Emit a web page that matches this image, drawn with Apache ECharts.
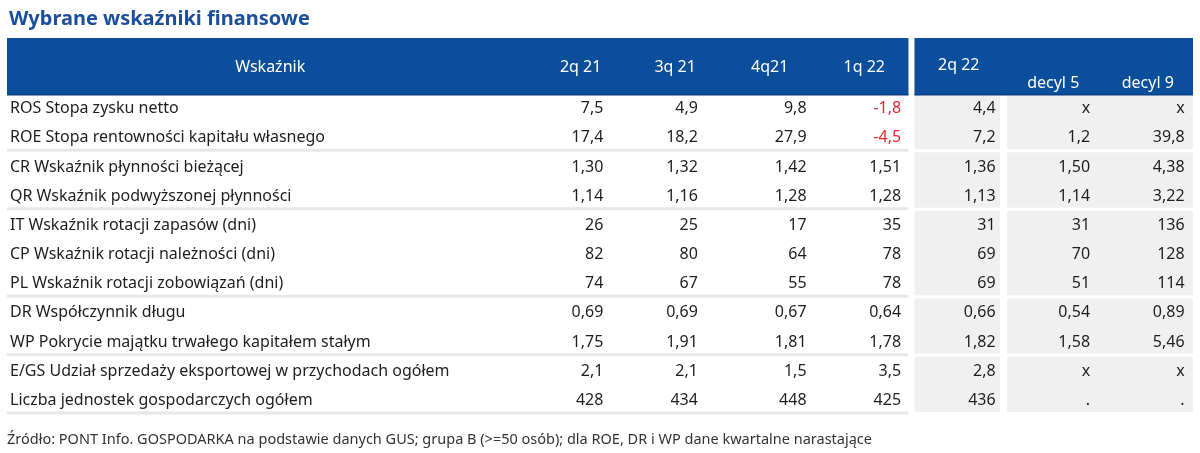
<!DOCTYPE html>
<html><head><meta charset="utf-8">
<script src="https://cdn.jsdelivr.net/npm/echarts@6/dist/echarts.min.js"></script>
<style>html,body{margin:0;padding:0;background:#fff}#c{width:1200px;height:453px}</style>
</head><body><div id="c"></div>
<script>
// ---------- data ----------
const titleText = 'Wybrane wskaźniki finansowe';
const sourceText = 'Źródło: PONT Info. GOSPODARKA na podstawie danych GUS; grupa B (>=50 osób); dla ROE, DR i WP dane kwartalne narastające';
const headerLabel = 'Wskaźnik';
const columns = ['2q 21', '3q 21', '4q21', '1q 22', '2q 22', 'decyl 5', 'decyl 9'];
const rowLabels = [
  'ROS Stopa zysku netto',
  'ROE Stopa rentowności kapitału własnego',
  'CR Wskaźnik płynności bieżącej',
  'QR Wskaźnik podwyższonej płynności',
  'IT Wskaźnik rotacji zapasów (dni)',
  'CP Wskaźnik rotacji należności (dni)',
  'PL Wskaźnik rotacji zobowiązań (dni)',
  'DR Współczynnik długu',
  'WP Pokrycie majątku trwałego kapitałem stałym',
  'E/GS Udział sprzedaży eksportowej w przychodach ogółem',
  'Liczba jednostek gospodarczych ogółem'
];
const rowDecimals = [1, 1, 2, 2, 0, 0, 0, 2, 2, 1, 0];
const rowGroups = [0, 0, 1, 1, 2, 2, 2, 3, 3, 4, 4];
const q2_21 = [7.5, 17.4, 1.30, 1.14, 26, 82, 74, 0.69, 1.75, 2.1, 428];
const q3_21 = [4.9, 18.2, 1.32, 1.16, 25, 80, 67, 0.69, 1.91, 2.1, 434];
const q4_21 = [9.8, 27.9, 1.42, 1.28, 17, 64, 55, 0.67, 1.81, 1.5, 448];
const q1_22 = [-1.8, -4.5, 1.51, 1.28, 35, 78, 78, 0.64, 1.78, 3.5, 425];
const q2_22 = [4.4, 7.2, 1.36, 1.13, 31, 69, 69, 0.66, 1.82, 2.8, 436];
const decyl5 = ['x', 1.2, 1.50, 1.14, 31, 70, 51, 0.54, 1.58, 'x', '.'];
const decyl9 = ['x', 39.8, 4.38, 3.22, 136, 128, 114, 0.89, 5.46, 'x', '.'];
const columnValues = [q2_21, q3_21, q4_21, q1_22, q2_22, decyl5, decyl9];
// column blocks: [first column, end column, shaded]
const columnBlocks = [[0, 4, false], [4, 5, true], [5, 7, true]];

// ---------- style / layout ----------
const FONT = '"Noto Sans", "DejaVu Sans", sans-serif';
const BLUE = '#0b4f9c';
const GRAY = '#f0f0f0';
const SEP = '#e7e7e7';
const RED = '#e3262f';
const LABEL_UNITS = 5.57;
const HEADER_ROWS = 1.85;
const TEXT_DY = 2;
const valueAnchor = [0.74, 0.74, 0.89, 0.89, 0.89, 0.89, 0.89];
const headerDy = [0, 0, 0, 0, -2, 16, 16];

function fmt(v, d) {
  if (typeof v !== 'number') return v;
  return v.toFixed(d).replace('.', ',');
}

const nCols = columns.length, nRows = rowLabels.length;

// group ranges
const groups = [];
rowGroups.forEach((g, r) => {
  if (!groups.length || groups[groups.length - 1].g !== g) groups.push({ g, s: r, e: r + 1 });
  else groups[groups.length - 1].e = r + 1;
});

const bgData = [];
columnBlocks.forEach(b => {
  if (!b[2]) return;
  groups.forEach(gr => bgData.push([b[0], gr.s, b[1], gr.e]));
});
const sepData = groups.map(gr => [-LABEL_UNITS, gr.e, columnBlocks[0][1], gr.e]);
const headData = [[-LABEL_UNITS, -HEADER_ROWS, columnBlocks[0][1], 0], [columnBlocks[1][0], -HEADER_ROWS, nCols, 0]];
const headTextData = [[-LABEL_UNITS / 2, -HEADER_ROWS / 2]];
const headTexts = [headerLabel];
const headOffsets = [0];
columns.forEach((c, i) => { headTextData.push([i + 0.5, -HEADER_ROWS / 2]); headTexts.push(c); headOffsets.push(headerDy[i]); });
const cellData = [], cellTexts = [], cellNeg = [];
columnValues.forEach((arr, c) => {
  arr.forEach((v, r) => {
    cellData.push([c + valueAnchor[c], r + 0.5]);
    cellTexts.push(fmt(v, rowDecimals[r]));
    cellNeg.push(typeof v === 'number' && v < 0);
  });
});
const labelData = rowLabels.map((l, r) => [-LABEL_UNITS, r + 0.5]);

const chart = echarts.init(document.getElementById('c'), null, { renderer: 'canvas' });
chart.setOption({
  animation: false,
  backgroundColor: '#fff',
  title: [
    { text: titleText, left: 4, top: 4, textStyle: { fontFamily: FONT, fontSize: 20, fontWeight: 'bold', color: '#1b4f9c' } },
    { text: sourceText, left: 2, top: 427, textStyle: { fontFamily: FONT, fontSize: 14.5, fontWeight: 'normal', color: '#333' } }
  ],
  grid: { left: 7, right: 5, top: 38, bottom: 40 },
  xAxis: { type: 'value', min: -LABEL_UNITS, max: nCols, show: false },
  yAxis: { type: 'value', inverse: true, min: -HEADER_ROWS, max: nRows, show: false },
  series: [
    {
      type: 'custom', name: 'bg', data: bgData, silent: true,
      renderItem: (p, api) => {
        const a = api.coord([api.value(0), api.value(1)]);
        const b = api.coord([api.value(2), api.value(3)]);
        const firstCol = api.value(0) === columnBlocks[1][0];
        const x0 = a[0] + (firstCol ? 3 : 1), x1 = b[0] - (firstCol ? 6 : 2);
        const y0 = a[1] + 2, y1 = b[1] - 1;
        return { type: 'rect', shape: { x: x0, y: y0, width: x1 - x0, height: y1 - y0 }, style: { fill: GRAY } };
      }
    },
    {
      type: 'custom', name: 'sep', data: sepData, silent: true,
      renderItem: (p, api) => {
        const a = api.coord([api.value(0), api.value(1)]);
        const b = api.coord([api.value(2), api.value(3)]);
        return { type: 'rect', shape: { x: a[0], y: a[1] - 1.5, width: b[0] - a[0] - 3, height: 3 }, style: { fill: SEP } };
      }
    },
    {
      type: 'custom', name: 'head', data: headData, silent: true,
      renderItem: (p, api) => {
        const a = api.coord([api.value(0), api.value(1)]);
        const b = api.coord([api.value(2), api.value(3)]);
        const isLeft = p.dataIndex === 0;
        const x0 = a[0] + (isLeft ? 0 : 3), x1 = b[0] - (isLeft ? 3 : 2);
        return {
          type: 'group', children: [
            { type: 'rect', shape: { x: x0, y: a[1], width: x1 - x0, height: b[1] + 3 - a[1] }, style: { fill: BLUE } },
            { type: 'rect', shape: { x: x0, y: b[1] + 2, width: x1 - x0, height: 1.5 }, style: { fill: '#083f80' } }
          ]
        };
      }
    },
    {
      type: 'custom', name: 'headText', data: headTextData, silent: true,
      renderItem: (p, api) => {
        const a = api.coord([api.value(0), api.value(1)]);
        return { type: 'text', x: a[0], y: a[1] + TEXT_DY + headOffsets[p.dataIndex],
          style: { text: headTexts[p.dataIndex], fill: '#fff', fontFamily: FONT, fontSize: 16, align: 'center', verticalAlign: 'middle' } };
      }
    },
    {
      type: 'custom', name: 'labels', data: labelData, silent: true,
      renderItem: (p, api) => {
        const a = api.coord([api.value(0), api.value(1)]);
        return { type: 'text', x: a[0] + 3, y: a[1] + TEXT_DY,
          style: { text: rowLabels[p.dataIndex], fill: '#1e1e1e', fontFamily: FONT, fontSize: 16, align: 'left', verticalAlign: 'middle' } };
      }
    },
    {
      type: 'custom', name: 'cells', data: cellData, silent: true,
      renderItem: (p, api) => {
        const a = api.coord([api.value(0), api.value(1)]);
        return { type: 'text', x: a[0], y: a[1] + TEXT_DY,
          style: { text: cellTexts[p.dataIndex], fill: cellNeg[p.dataIndex] ? RED : '#1e1e1e', fontFamily: FONT, fontSize: 16, align: 'right', verticalAlign: 'middle' } };
      }
    }
  ]
});
</script>
</body></html>
